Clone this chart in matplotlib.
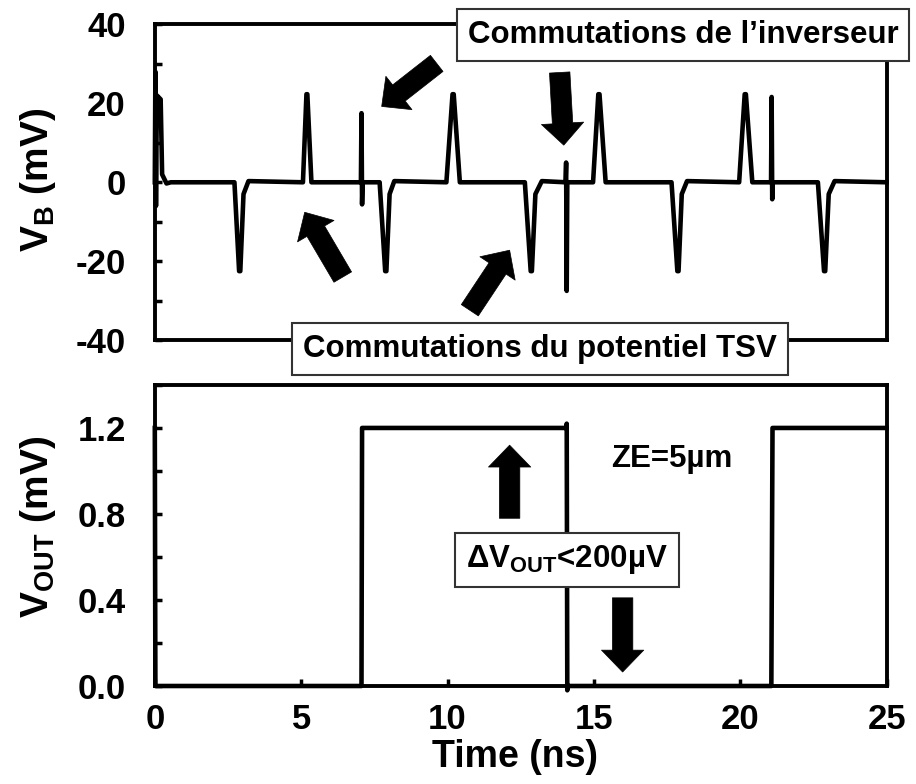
import matplotlib
matplotlib.use('Agg')
import matplotlib.pyplot as plt
from matplotlib.ticker import MultipleLocator

plt.rcParams['font.family'] = ['Liberation Sans', 'DejaVu Sans']
plt.rcParams['font.weight'] = 'bold'
plt.rcParams['axes.unicode_minus'] = False
plt.rcParams['mathtext.fontset'] = 'custom'
plt.rcParams['mathtext.rm'] = 'Liberation Sans:bold'
plt.rcParams['mathtext.bf'] = 'Liberation Sans:bold'
plt.rcParams['mathtext.it'] = 'Liberation Sans:bold'
plt.rcParams['mathtext.default'] = 'rm'

# V_B trace (ns, mV)
t_b = [0.00, 0.02, 0.04, 0.07, 0.20, 0.25, 0.40, 0.55,
       2.72, 2.88, 2.92, 3.03, 3.20,
       5.06, 5.18, 5.21, 5.35,
       7.04, 7.06, 7.08, 7.10,
       7.68, 7.87, 7.91, 8.02, 8.18,
       9.96, 10.17, 10.21, 10.42,
       12.64, 12.84, 12.88, 13.00, 13.22,
       14.03, 14.05, 14.07, 14.09,
       14.97, 15.15, 15.19, 15.40,
       17.65, 17.85, 17.89, 18.00, 18.18,
       19.96, 20.15, 20.19, 20.41,
       21.05, 21.07, 21.09, 21.11,
       22.65, 22.86, 22.90, 23.02, 23.22,
       25.00]
v_b = [0.0, 28.0, -6.0, 22.0, 21.0, 2.0, -0.3, 0.0,
       0.0, -22.5, -22.5, -3.0, 0.3,
       0.0, 22.3, 22.3, 0.0,
       0.0, 17.5, -5.6, 0.0,
       0.0, -22.5, -22.5, -3.0, 0.3,
       0.0, 22.3, 22.3, 0.0,
       0.0, -22.5, -22.5, -3.0, 0.3,
       0.0, 5.0, -27.5, 0.0,
       0.0, 22.3, 22.3, 0.0,
       0.0, -22.5, -22.5, -3.0, 0.3,
       0.0, 22.3, 22.3, 0.0,
       0.0, 21.6, -4.3, 0.0,
       0.0, -22.5, -22.5, -3.0, 0.3,
       0.0]

# V_OUT trace (ns, mV)
t_out = [0.00, 0.02, 7.06, 7.08, 14.06, 14.07, 14.09, 14.11, 21.06, 21.10, 25.00]
v_out = [1.20, 0.00, 0.00, 1.20, 1.20, 1.22, -0.02, 0.00, 0.00, 1.20, 1.20]

fig = plt.figure(figsize=(9.16, 7.84), dpi=100)
ax1 = fig.add_axes([0.169, 0.566, 0.799, 0.403])
ax2 = fig.add_axes([0.169, 0.125, 0.799, 0.384])

ax1.plot(t_b, v_b, color='black', lw=3.3, clip_on=False, solid_joinstyle='round')
ax2.plot(t_out, v_out, color='black', lw=3.3, clip_on=False, solid_joinstyle='round')

ax1.set_xlim(0, 25)
ax1.set_ylim(-40, 40)
ax1.set_yticks([-40, -20, 0, 20, 40])
ax1.yaxis.set_minor_locator(MultipleLocator(10))
ax1.set_xticks([])

ax2.set_xlim(0, 25)
ax2.set_ylim(0, 1.4)
ax2.set_xticks([0, 5, 10, 15, 20, 25])
ax2.set_yticks([0.0, 0.4, 0.8, 1.2])
ax2.set_yticklabels(['0.0', '0.4', '0.8', '1.2'])
ax2.yaxis.set_minor_locator(MultipleLocator(0.2))

for ax in (ax1, ax2):
    for s in ax.spines.values():
        s.set_linewidth(2.8)
    ax.tick_params(axis='both', which='both', direction='in', width=2.5, length=5, labelsize=25)
    ax.tick_params(axis='y', which='major', pad=21)
    ax.tick_params(axis='x', which='major', pad=12)

# y labels and x label
fig.text(38 / 916, 1 - 180 / 784, r'$V_B$ (mV)', rotation=90, ha='center', va='center', fontsize=28)
fig.text(38 / 916, 1 - 527 / 784, r'$V_{OUT}$ (mV)', rotation=90, ha='center', va='center', fontsize=28)
fig.text(515 / 916, 1 - 757 / 784, 'Time (ns)', ha='center', va='center', fontsize=27)

box = dict(boxstyle='square,pad=0.35', fc='white', ec='#333333', lw=1.5)
fig.text(683 / 916, 1 - 35 / 784, 'Commutations de l\u2019inverseur', ha='center', va='center', fontsize=22.5, bbox=box)
fig.text(540 / 916, 1 - 349 / 784, 'Commutations du potentiel TSV', ha='center', va='center', fontsize=22.5, bbox=box)
fig.text(567 / 916, 1 - 560 / 784, r'$\Delta V_{OUT}$<200' + '\u00b5V',
         ha='center', va='center', fontsize=22.5, bbox=box)
fig.text(672 / 916, 1 - 459 / 784, 'ZE=5\u00b5m', ha='center', va='center', fontsize=22.5)

arrow = dict(arrowstyle='simple,head_length=0.75,head_width=1.45,tail_width=0.7',
             mutation_scale=21, color='black', shrinkA=0, shrinkB=0, lw=0.5)

# arrows in the top panel: (tail, tip)
arrows_b = [((9.63, 30.1), (7.75, 19.2)),
            ((13.83, 27.8), (13.97, 9.4)),
            ((6.42, -24.0), (5.12, -7.6)),
            ((10.76, -32.4), (12.12, -17.2))]
for tail, tip in arrows_b:
    ax1.annotate('', xy=tip, xytext=tail, arrowprops=arrow)

arrows_out = [((12.12, 0.78), (12.12, 1.12)),
              ((15.98, 0.41), (15.98, 0.065))]
for tail, tip in arrows_out:
    ax2.annotate('', xy=tip, xytext=tail, arrowprops=arrow)

fig.savefig('out.png', dpi=100)
